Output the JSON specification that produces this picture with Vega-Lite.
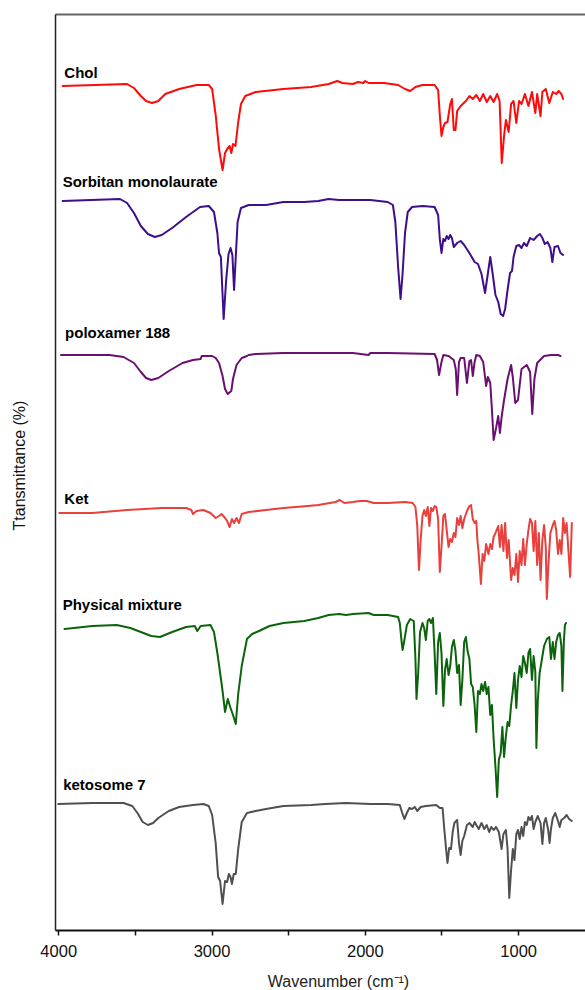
{
  "$schema": "https://vega.github.io/schema/vega-lite/v6.json",
  "width": 530,
  "height": 916,
  "autosize": {"type": "none"},
  "padding": {"left": 55, "top": 14, "right": 0, "bottom": 60},
  "background": "white",
  "config": {"view": {"stroke": null}, "font": "Liberation Sans"},
  "datasets": {
    "labels": [
      {"label": "Chol", "w": 3960, "t": 852},
      {"label": "Sorbitan monolaurate", "w": 3971, "t": 743},
      {"label": "poloxamer 188", "w": 3955, "t": 592},
      {"label": "Ket", "w": 3960, "t": 426},
      {"label": "Physical mixture", "w": 3971, "t": 320},
      {"label": "ketosome 7", "w": 3968, "t": 140}
    ],
    "spectra": [
      {"s":"Chol","w":3971,"t":844},{"s":"Chol","w":3551,"t":846},{"s":"Chol","w":3506,"t":842},{"s":"Chol","w":3461,"t":834},{"s":"Chol","w":3427,"t":829},{"s":"Chol","w":3388,"t":827},{"s":"Chol","w":3347,"t":829},{"s":"Chol","w":3302,"t":836},{"s":"Chol","w":3211,"t":841},{"s":"Chol","w":3098,"t":845},{"s":"Chol","w":3018,"t":845},{"s":"Chol","w":2996,"t":841},{"s":"Chol","w":2973,"t":815},{"s":"Chol","w":2951,"t":781},{"s":"Chol","w":2928,"t":760},{"s":"Chol","w":2912,"t":777},{"s":"Chol","w":2898,"t":781},{"s":"Chol","w":2882,"t":784},{"s":"Chol","w":2871,"t":777},{"s":"Chol","w":2860,"t":786},{"s":"Chol","w":2844,"t":784},{"s":"Chol","w":2826,"t":808},{"s":"Chol","w":2808,"t":826},{"s":"Chol","w":2780,"t":834},{"s":"Chol","w":2712,"t":838},{"s":"Chol","w":2531,"t":841},{"s":"Chol","w":2350,"t":843},{"s":"Chol","w":2236,"t":846},{"s":"Chol","w":2180,"t":849},{"s":"Chol","w":2146,"t":847},{"s":"Chol","w":2078,"t":846},{"s":"Chol","w":2044,"t":848},{"s":"Chol","w":2010,"t":847},{"s":"Chol","w":1998,"t":849},{"s":"Chol","w":1976,"t":847},{"s":"Chol","w":1874,"t":847},{"s":"Chol","w":1783,"t":845},{"s":"Chol","w":1738,"t":841},{"s":"Chol","w":1704,"t":839},{"s":"Chol","w":1670,"t":843},{"s":"Chol","w":1624,"t":845},{"s":"Chol","w":1545,"t":845},{"s":"Chol","w":1522,"t":840},{"s":"Chol","w":1511,"t":815},{"s":"Chol","w":1500,"t":794},{"s":"Chol","w":1488,"t":803},{"s":"Chol","w":1477,"t":807},{"s":"Chol","w":1461,"t":808},{"s":"Chol","w":1443,"t":826},{"s":"Chol","w":1432,"t":831},{"s":"Chol","w":1420,"t":800},{"s":"Chol","w":1409,"t":800},{"s":"Chol","w":1398,"t":819},{"s":"Chol","w":1375,"t":824},{"s":"Chol","w":1341,"t":829},{"s":"Chol","w":1318,"t":834},{"s":"Chol","w":1296,"t":831},{"s":"Chol","w":1273,"t":835},{"s":"Chol","w":1250,"t":829},{"s":"Chol","w":1228,"t":836},{"s":"Chol","w":1205,"t":828},{"s":"Chol","w":1182,"t":834},{"s":"Chol","w":1160,"t":828},{"s":"Chol","w":1137,"t":836},{"s":"Chol","w":1121,"t":829},{"s":"Chol","w":1107,"t":767},{"s":"Chol","w":1092,"t":794},{"s":"Chol","w":1080,"t":810},{"s":"Chol","w":1062,"t":798},{"s":"Chol","w":1046,"t":826},{"s":"Chol","w":1030,"t":829},{"s":"Chol","w":1012,"t":807},{"s":"Chol","w":994,"t":829},{"s":"Chol","w":978,"t":826},{"s":"Chol","w":956,"t":836},{"s":"Chol","w":933,"t":824},{"s":"Chol","w":910,"t":838},{"s":"Chol","w":888,"t":817},{"s":"Chol","w":876,"t":836},{"s":"Chol","w":854,"t":814},{"s":"Chol","w":842,"t":838},{"s":"Chol","w":820,"t":841},{"s":"Chol","w":797,"t":827},{"s":"Chol","w":774,"t":838},{"s":"Chol","w":752,"t":836},{"s":"Chol","w":736,"t":839},{"s":"Chol","w":718,"t":836},{"s":"Chol","w":707,"t":831},
      {"s":"Sorbitan","w":3971,"t":729},{"s":"Sorbitan","w":3597,"t":731},{"s":"Sorbitan","w":3551,"t":727},{"s":"Sorbitan","w":3506,"t":717},{"s":"Sorbitan","w":3461,"t":704},{"s":"Sorbitan","w":3415,"t":696},{"s":"Sorbitan","w":3370,"t":693},{"s":"Sorbitan","w":3325,"t":695},{"s":"Sorbitan","w":3257,"t":702},{"s":"Sorbitan","w":3166,"t":713},{"s":"Sorbitan","w":3075,"t":723},{"s":"Sorbitan","w":3018,"t":724},{"s":"Sorbitan","w":2984,"t":718},{"s":"Sorbitan","w":2962,"t":697},{"s":"Sorbitan","w":2951,"t":677},{"s":"Sorbitan","w":2939,"t":673},{"s":"Sorbitan","w":2921,"t":611},{"s":"Sorbitan","w":2905,"t":649},{"s":"Sorbitan","w":2889,"t":676},{"s":"Sorbitan","w":2876,"t":682},{"s":"Sorbitan","w":2864,"t":675},{"s":"Sorbitan","w":2853,"t":640},{"s":"Sorbitan","w":2842,"t":673},{"s":"Sorbitan","w":2830,"t":708},{"s":"Sorbitan","w":2808,"t":722},{"s":"Sorbitan","w":2758,"t":725},{"s":"Sorbitan","w":2645,"t":725},{"s":"Sorbitan","w":2531,"t":728},{"s":"Sorbitan","w":2395,"t":728},{"s":"Sorbitan","w":2304,"t":729},{"s":"Sorbitan","w":2236,"t":731},{"s":"Sorbitan","w":2168,"t":730},{"s":"Sorbitan","w":2078,"t":730},{"s":"Sorbitan","w":1964,"t":730},{"s":"Sorbitan","w":1851,"t":728},{"s":"Sorbitan","w":1817,"t":725},{"s":"Sorbitan","w":1801,"t":708},{"s":"Sorbitan","w":1783,"t":663},{"s":"Sorbitan","w":1767,"t":631},{"s":"Sorbitan","w":1754,"t":656},{"s":"Sorbitan","w":1738,"t":697},{"s":"Sorbitan","w":1720,"t":718},{"s":"Sorbitan","w":1692,"t":723},{"s":"Sorbitan","w":1624,"t":724},{"s":"Sorbitan","w":1545,"t":723},{"s":"Sorbitan","w":1522,"t":715},{"s":"Sorbitan","w":1511,"t":691},{"s":"Sorbitan","w":1500,"t":677},{"s":"Sorbitan","w":1488,"t":691},{"s":"Sorbitan","w":1477,"t":689},{"s":"Sorbitan","w":1466,"t":694},{"s":"Sorbitan","w":1454,"t":691},{"s":"Sorbitan","w":1443,"t":695},{"s":"Sorbitan","w":1432,"t":692},{"s":"Sorbitan","w":1420,"t":683},{"s":"Sorbitan","w":1409,"t":685},{"s":"Sorbitan","w":1398,"t":687},{"s":"Sorbitan","w":1375,"t":689},{"s":"Sorbitan","w":1352,"t":685},{"s":"Sorbitan","w":1318,"t":677},{"s":"Sorbitan","w":1284,"t":668},{"s":"Sorbitan","w":1262,"t":666},{"s":"Sorbitan","w":1239,"t":656},{"s":"Sorbitan","w":1216,"t":637},{"s":"Sorbitan","w":1198,"t":656},{"s":"Sorbitan","w":1182,"t":673},{"s":"Sorbitan","w":1166,"t":656},{"s":"Sorbitan","w":1148,"t":635},{"s":"Sorbitan","w":1130,"t":628},{"s":"Sorbitan","w":1114,"t":616},{"s":"Sorbitan","w":1098,"t":614},{"s":"Sorbitan","w":1085,"t":621},{"s":"Sorbitan","w":1069,"t":640},{"s":"Sorbitan","w":1053,"t":657},{"s":"Sorbitan","w":1040,"t":659},{"s":"Sorbitan","w":1030,"t":673},{"s":"Sorbitan","w":1012,"t":684},{"s":"Sorbitan","w":994,"t":685},{"s":"Sorbitan","w":978,"t":682},{"s":"Sorbitan","w":962,"t":687},{"s":"Sorbitan","w":944,"t":684},{"s":"Sorbitan","w":922,"t":692},{"s":"Sorbitan","w":899,"t":690},{"s":"Sorbitan","w":876,"t":694},{"s":"Sorbitan","w":858,"t":696},{"s":"Sorbitan","w":842,"t":692},{"s":"Sorbitan","w":826,"t":686},{"s":"Sorbitan","w":808,"t":688},{"s":"Sorbitan","w":790,"t":682},{"s":"Sorbitan","w":777,"t":668},{"s":"Sorbitan","w":763,"t":683},{"s":"Sorbitan","w":740,"t":684},{"s":"Sorbitan","w":724,"t":677},{"s":"Sorbitan","w":707,"t":675},
      {"s":"Poloxamer","w":3982,"t":575},{"s":"Poloxamer","w":3665,"t":575},{"s":"Poloxamer","w":3574,"t":573},{"s":"Poloxamer","w":3506,"t":567},{"s":"Poloxamer","w":3461,"t":558},{"s":"Poloxamer","w":3427,"t":552},{"s":"Poloxamer","w":3393,"t":550},{"s":"Poloxamer","w":3347,"t":552},{"s":"Poloxamer","w":3279,"t":559},{"s":"Poloxamer","w":3189,"t":567},{"s":"Poloxamer","w":3121,"t":570},{"s":"Poloxamer","w":3071,"t":571},{"s":"Poloxamer","w":3064,"t":574},{"s":"Poloxamer","w":2996,"t":574},{"s":"Poloxamer","w":2973,"t":572},{"s":"Poloxamer","w":2951,"t":567},{"s":"Poloxamer","w":2928,"t":554},{"s":"Poloxamer","w":2912,"t":541},{"s":"Poloxamer","w":2894,"t":536},{"s":"Poloxamer","w":2871,"t":539},{"s":"Poloxamer","w":2860,"t":551},{"s":"Poloxamer","w":2837,"t":565},{"s":"Poloxamer","w":2803,"t":572},{"s":"Poloxamer","w":2769,"t":574},{"s":"Poloxamer","w":2758,"t":575},{"s":"Poloxamer","w":2712,"t":576},{"s":"Poloxamer","w":2531,"t":577},{"s":"Poloxamer","w":2304,"t":577},{"s":"Poloxamer","w":2078,"t":577},{"s":"Poloxamer","w":1976,"t":575},{"s":"Poloxamer","w":1964,"t":577},{"s":"Poloxamer","w":1851,"t":577},{"s":"Poloxamer","w":1545,"t":576},{"s":"Poloxamer","w":1529,"t":570},{"s":"Poloxamer","w":1516,"t":555},{"s":"Poloxamer","w":1500,"t":568},{"s":"Poloxamer","w":1488,"t":575},{"s":"Poloxamer","w":1454,"t":574},{"s":"Poloxamer","w":1420,"t":570},{"s":"Poloxamer","w":1407,"t":561},{"s":"Poloxamer","w":1398,"t":535},{"s":"Poloxamer","w":1386,"t":568},{"s":"Poloxamer","w":1375,"t":572},{"s":"Poloxamer","w":1352,"t":572},{"s":"Poloxamer","w":1334,"t":547},{"s":"Poloxamer","w":1318,"t":569},{"s":"Poloxamer","w":1307,"t":570},{"s":"Poloxamer","w":1296,"t":554},{"s":"Poloxamer","w":1284,"t":568},{"s":"Poloxamer","w":1273,"t":575},{"s":"Poloxamer","w":1250,"t":574},{"s":"Poloxamer","w":1228,"t":568},{"s":"Poloxamer","w":1209,"t":544},{"s":"Poloxamer","w":1198,"t":553},{"s":"Poloxamer","w":1182,"t":547},{"s":"Poloxamer","w":1171,"t":520},{"s":"Poloxamer","w":1160,"t":490},{"s":"Poloxamer","w":1144,"t":502},{"s":"Poloxamer","w":1130,"t":514},{"s":"Poloxamer","w":1119,"t":497},{"s":"Poloxamer","w":1108,"t":513},{"s":"Poloxamer","w":1092,"t":530},{"s":"Poloxamer","w":1069,"t":551},{"s":"Poloxamer","w":1046,"t":565},{"s":"Poloxamer","w":1035,"t":553},{"s":"Poloxamer","w":1019,"t":527},{"s":"Poloxamer","w":1001,"t":530},{"s":"Poloxamer","w":978,"t":561},{"s":"Poloxamer","w":944,"t":565},{"s":"Poloxamer","w":922,"t":558},{"s":"Poloxamer","w":908,"t":516},{"s":"Poloxamer","w":894,"t":551},{"s":"Poloxamer","w":876,"t":567},{"s":"Poloxamer","w":831,"t":574},{"s":"Poloxamer","w":786,"t":575},{"s":"Poloxamer","w":740,"t":575},{"s":"Poloxamer","w":724,"t":574},
      {"s":"Ket","w":3993,"t":417},{"s":"Ket","w":3778,"t":417},{"s":"Ket","w":3551,"t":420},{"s":"Ket","w":3325,"t":422},{"s":"Ket","w":3166,"t":422},{"s":"Ket","w":3132,"t":420},{"s":"Ket","w":3121,"t":416},{"s":"Ket","w":3098,"t":419},{"s":"Ket","w":3053,"t":420},{"s":"Ket","w":3007,"t":417},{"s":"Ket","w":2973,"t":412},{"s":"Ket","w":2951,"t":414},{"s":"Ket","w":2935,"t":416},{"s":"Ket","w":2917,"t":413},{"s":"Ket","w":2898,"t":409},{"s":"Ket","w":2882,"t":403},{"s":"Ket","w":2867,"t":411},{"s":"Ket","w":2853,"t":407},{"s":"Ket","w":2837,"t":412},{"s":"Ket","w":2821,"t":407},{"s":"Ket","w":2803,"t":416},{"s":"Ket","w":2758,"t":418},{"s":"Ket","w":2645,"t":420},{"s":"Ket","w":2531,"t":422},{"s":"Ket","w":2372,"t":424},{"s":"Ket","w":2304,"t":425},{"s":"Ket","w":2191,"t":428},{"s":"Ket","w":2164,"t":430},{"s":"Ket","w":2134,"t":427},{"s":"Ket","w":2078,"t":428},{"s":"Ket","w":2032,"t":429},{"s":"Ket","w":1987,"t":429},{"s":"Ket","w":1942,"t":427},{"s":"Ket","w":1851,"t":427},{"s":"Ket","w":1738,"t":428},{"s":"Ket","w":1688,"t":427},{"s":"Ket","w":1670,"t":423},{"s":"Ket","w":1658,"t":404},{"s":"Ket","w":1647,"t":360},{"s":"Ket","w":1636,"t":390},{"s":"Ket","w":1624,"t":414},{"s":"Ket","w":1613,"t":420},{"s":"Ket","w":1602,"t":414},{"s":"Ket","w":1590,"t":423},{"s":"Ket","w":1579,"t":404},{"s":"Ket","w":1568,"t":422},{"s":"Ket","w":1556,"t":419},{"s":"Ket","w":1545,"t":424},{"s":"Ket","w":1534,"t":423},{"s":"Ket","w":1522,"t":411},{"s":"Ket","w":1511,"t":358},{"s":"Ket","w":1500,"t":383},{"s":"Ket","w":1488,"t":414},{"s":"Ket","w":1477,"t":416},{"s":"Ket","w":1466,"t":400},{"s":"Ket","w":1454,"t":383},{"s":"Ket","w":1443,"t":391},{"s":"Ket","w":1432,"t":388},{"s":"Ket","w":1420,"t":397},{"s":"Ket","w":1409,"t":393},{"s":"Ket","w":1398,"t":412},{"s":"Ket","w":1386,"t":405},{"s":"Ket","w":1375,"t":414},{"s":"Ket","w":1364,"t":402},{"s":"Ket","w":1352,"t":411},{"s":"Ket","w":1334,"t":419},{"s":"Ket","w":1318,"t":424},{"s":"Ket","w":1307,"t":425},{"s":"Ket","w":1296,"t":411},{"s":"Ket","w":1284,"t":407},{"s":"Ket","w":1273,"t":409},{"s":"Ket","w":1266,"t":390},{"s":"Ket","w":1257,"t":376},{"s":"Ket","w":1243,"t":346},{"s":"Ket","w":1232,"t":376},{"s":"Ket","w":1221,"t":369},{"s":"Ket","w":1209,"t":386},{"s":"Ket","w":1194,"t":376},{"s":"Ket","w":1182,"t":386},{"s":"Ket","w":1171,"t":381},{"s":"Ket","w":1160,"t":393},{"s":"Ket","w":1148,"t":397},{"s":"Ket","w":1130,"t":404},{"s":"Ket","w":1119,"t":383},{"s":"Ket","w":1108,"t":405},{"s":"Ket","w":1096,"t":379},{"s":"Ket","w":1085,"t":407},{"s":"Ket","w":1073,"t":372},{"s":"Ket","w":1062,"t":390},{"s":"Ket","w":1046,"t":350},{"s":"Ket","w":1035,"t":362},{"s":"Ket","w":1024,"t":355},{"s":"Ket","w":1012,"t":376},{"s":"Ket","w":1001,"t":348},{"s":"Ket","w":990,"t":379},{"s":"Ket","w":978,"t":365},{"s":"Ket","w":967,"t":391},{"s":"Ket","w":956,"t":365},{"s":"Ket","w":944,"t":386},{"s":"Ket","w":933,"t":400},{"s":"Ket","w":922,"t":411},{"s":"Ket","w":910,"t":407},{"s":"Ket","w":899,"t":379},{"s":"Ket","w":888,"t":409},{"s":"Ket","w":876,"t":365},{"s":"Ket","w":865,"t":397},{"s":"Ket","w":854,"t":350},{"s":"Ket","w":842,"t":390},{"s":"Ket","w":831,"t":405},{"s":"Ket","w":820,"t":383},{"s":"Ket","w":813,"t":331},{"s":"Ket","w":804,"t":362},{"s":"Ket","w":790,"t":397},{"s":"Ket","w":774,"t":405},{"s":"Ket","w":763,"t":409},{"s":"Ket","w":752,"t":400},{"s":"Ket","w":740,"t":376},{"s":"Ket","w":729,"t":390},{"s":"Ket","w":718,"t":376},{"s":"Ket","w":706,"t":412},{"s":"Ket","w":695,"t":397},{"s":"Ket","w":684,"t":407},{"s":"Ket","w":672,"t":379},{"s":"Ket","w":661,"t":353},{"s":"Ket","w":650,"t":407},
      {"s":"Physical","w":3959,"t":301},{"s":"Physical","w":3778,"t":304},{"s":"Physical","w":3619,"t":305},{"s":"Physical","w":3529,"t":302},{"s":"Physical","w":3461,"t":298},{"s":"Physical","w":3393,"t":294},{"s":"Physical","w":3336,"t":293},{"s":"Physical","w":3257,"t":298},{"s":"Physical","w":3166,"t":303},{"s":"Physical","w":3109,"t":304},{"s":"Physical","w":3093,"t":299},{"s":"Physical","w":3071,"t":304},{"s":"Physical","w":3007,"t":305},{"s":"Physical","w":2984,"t":298},{"s":"Physical","w":2962,"t":277},{"s":"Physical","w":2944,"t":257},{"s":"Physical","w":2928,"t":239},{"s":"Physical","w":2912,"t":218},{"s":"Physical","w":2894,"t":231},{"s":"Physical","w":2876,"t":222},{"s":"Physical","w":2860,"t":215},{"s":"Physical","w":2842,"t":206},{"s":"Physical","w":2826,"t":236},{"s":"Physical","w":2803,"t":264},{"s":"Physical","w":2769,"t":291},{"s":"Physical","w":2735,"t":296},{"s":"Physical","w":2690,"t":299},{"s":"Physical","w":2622,"t":304},{"s":"Physical","w":2531,"t":307},{"s":"Physical","w":2395,"t":309},{"s":"Physical","w":2304,"t":312},{"s":"Physical","w":2236,"t":315},{"s":"Physical","w":2168,"t":316},{"s":"Physical","w":2123,"t":315},{"s":"Physical","w":2078,"t":316},{"s":"Physical","w":1976,"t":317},{"s":"Physical","w":1942,"t":315},{"s":"Physical","w":1851,"t":315},{"s":"Physical","w":1783,"t":313},{"s":"Physical","w":1772,"t":307},{"s":"Physical","w":1760,"t":288},{"s":"Physical","w":1754,"t":280},{"s":"Physical","w":1742,"t":290},{"s":"Physical","w":1726,"t":305},{"s":"Physical","w":1704,"t":311},{"s":"Physical","w":1681,"t":309},{"s":"Physical","w":1670,"t":271},{"s":"Physical","w":1663,"t":231},{"s":"Physical","w":1652,"t":257},{"s":"Physical","w":1640,"t":298},{"s":"Physical","w":1624,"t":307},{"s":"Physical","w":1613,"t":302},{"s":"Physical","w":1602,"t":290},{"s":"Physical","w":1590,"t":309},{"s":"Physical","w":1579,"t":311},{"s":"Physical","w":1568,"t":307},{"s":"Physical","w":1556,"t":312},{"s":"Physical","w":1545,"t":277},{"s":"Physical","w":1534,"t":236},{"s":"Physical","w":1522,"t":288},{"s":"Physical","w":1511,"t":297},{"s":"Physical","w":1500,"t":277},{"s":"Physical","w":1488,"t":224},{"s":"Physical","w":1477,"t":260},{"s":"Physical","w":1466,"t":271},{"s":"Physical","w":1454,"t":255},{"s":"Physical","w":1443,"t":264},{"s":"Physical","w":1432,"t":283},{"s":"Physical","w":1420,"t":290},{"s":"Physical","w":1409,"t":279},{"s":"Physical","w":1398,"t":257},{"s":"Physical","w":1386,"t":265},{"s":"Physical","w":1375,"t":225},{"s":"Physical","w":1364,"t":250},{"s":"Physical","w":1352,"t":288},{"s":"Physical","w":1341,"t":293},{"s":"Physical","w":1330,"t":279},{"s":"Physical","w":1318,"t":271},{"s":"Physical","w":1307,"t":246},{"s":"Physical","w":1296,"t":243},{"s":"Physical","w":1284,"t":225},{"s":"Physical","w":1273,"t":198},{"s":"Physical","w":1262,"t":239},{"s":"Physical","w":1250,"t":236},{"s":"Physical","w":1239,"t":246},{"s":"Physical","w":1228,"t":239},{"s":"Physical","w":1216,"t":248},{"s":"Physical","w":1205,"t":236},{"s":"Physical","w":1194,"t":243},{"s":"Physical","w":1182,"t":215},{"s":"Physical","w":1171,"t":225},{"s":"Physical","w":1160,"t":191},{"s":"Physical","w":1148,"t":163},{"s":"Physical","w":1137,"t":133},{"s":"Physical","w":1126,"t":170},{"s":"Physical","w":1114,"t":177},{"s":"Physical","w":1103,"t":203},{"s":"Physical","w":1092,"t":173},{"s":"Physical","w":1080,"t":194},{"s":"Physical","w":1069,"t":208},{"s":"Physical","w":1058,"t":204},{"s":"Physical","w":1046,"t":225},{"s":"Physical","w":1035,"t":239},{"s":"Physical","w":1024,"t":257},{"s":"Physical","w":1012,"t":222},{"s":"Physical","w":1001,"t":250},{"s":"Physical","w":990,"t":264},{"s":"Physical","w":978,"t":253},{"s":"Physical","w":967,"t":274},{"s":"Physical","w":956,"t":267},{"s":"Physical","w":944,"t":257},{"s":"Physical","w":933,"t":277},{"s":"Physical","w":922,"t":281},{"s":"Physical","w":910,"t":250},{"s":"Physical","w":899,"t":274},{"s":"Physical","w":888,"t":258},{"s":"Physical","w":881,"t":182},{"s":"Physical","w":872,"t":229},{"s":"Physical","w":860,"t":257},{"s":"Physical","w":849,"t":267},{"s":"Physical","w":831,"t":284},{"s":"Physical","w":813,"t":291},{"s":"Physical","w":797,"t":293},{"s":"Physical","w":786,"t":271},{"s":"Physical","w":774,"t":288},{"s":"Physical","w":763,"t":271},{"s":"Physical","w":752,"t":288},{"s":"Physical","w":740,"t":295},{"s":"Physical","w":729,"t":297},{"s":"Physical","w":718,"t":284},{"s":"Physical","w":711,"t":239},{"s":"Physical","w":702,"t":288},{"s":"Physical","w":695,"t":305},{"s":"Physical","w":688,"t":307},
      {"s":"Ketosome","w":4000,"t":126},{"s":"Ketosome","w":3778,"t":127},{"s":"Ketosome","w":3574,"t":127},{"s":"Ketosome","w":3517,"t":124},{"s":"Ketosome","w":3483,"t":117},{"s":"Ketosome","w":3449,"t":108},{"s":"Ketosome","w":3415,"t":105},{"s":"Ketosome","w":3381,"t":107},{"s":"Ketosome","w":3347,"t":112},{"s":"Ketosome","w":3279,"t":119},{"s":"Ketosome","w":3211,"t":123},{"s":"Ketosome","w":3121,"t":125},{"s":"Ketosome","w":3053,"t":126},{"s":"Ketosome","w":3018,"t":124},{"s":"Ketosome","w":2996,"t":115},{"s":"Ketosome","w":2973,"t":87},{"s":"Ketosome","w":2957,"t":53},{"s":"Ketosome","w":2944,"t":49},{"s":"Ketosome","w":2928,"t":26},{"s":"Ketosome","w":2912,"t":49},{"s":"Ketosome","w":2898,"t":48},{"s":"Ketosome","w":2887,"t":56},{"s":"Ketosome","w":2876,"t":53},{"s":"Ketosome","w":2867,"t":46},{"s":"Ketosome","w":2855,"t":56},{"s":"Ketosome","w":2842,"t":56},{"s":"Ketosome","w":2826,"t":81},{"s":"Ketosome","w":2803,"t":108},{"s":"Ketosome","w":2769,"t":117},{"s":"Ketosome","w":2712,"t":119},{"s":"Ketosome","w":2645,"t":121},{"s":"Ketosome","w":2531,"t":124},{"s":"Ketosome","w":2350,"t":125},{"s":"Ketosome","w":2259,"t":126},{"s":"Ketosome","w":2123,"t":127},{"s":"Ketosome","w":1964,"t":126},{"s":"Ketosome","w":1851,"t":126},{"s":"Ketosome","w":1772,"t":125},{"s":"Ketosome","w":1756,"t":117},{"s":"Ketosome","w":1742,"t":111},{"s":"Ketosome","w":1726,"t":117},{"s":"Ketosome","w":1710,"t":122},{"s":"Ketosome","w":1692,"t":121},{"s":"Ketosome","w":1674,"t":123},{"s":"Ketosome","w":1658,"t":119},{"s":"Ketosome","w":1636,"t":123},{"s":"Ketosome","w":1602,"t":124},{"s":"Ketosome","w":1534,"t":125},{"s":"Ketosome","w":1511,"t":122},{"s":"Ketosome","w":1493,"t":122},{"s":"Ketosome","w":1482,"t":101},{"s":"Ketosome","w":1470,"t":81},{"s":"Ketosome","w":1461,"t":67},{"s":"Ketosome","w":1450,"t":82},{"s":"Ketosome","w":1438,"t":81},{"s":"Ketosome","w":1427,"t":98},{"s":"Ketosome","w":1416,"t":107},{"s":"Ketosome","w":1398,"t":110},{"s":"Ketosome","w":1386,"t":87},{"s":"Ketosome","w":1375,"t":75},{"s":"Ketosome","w":1364,"t":89},{"s":"Ketosome","w":1352,"t":94},{"s":"Ketosome","w":1334,"t":105},{"s":"Ketosome","w":1318,"t":107},{"s":"Ketosome","w":1296,"t":103},{"s":"Ketosome","w":1284,"t":108},{"s":"Ketosome","w":1273,"t":105},{"s":"Ketosome","w":1257,"t":101},{"s":"Ketosome","w":1239,"t":107},{"s":"Ketosome","w":1221,"t":101},{"s":"Ketosome","w":1205,"t":105},{"s":"Ketosome","w":1189,"t":98},{"s":"Ketosome","w":1175,"t":103},{"s":"Ketosome","w":1160,"t":100},{"s":"Ketosome","w":1144,"t":103},{"s":"Ketosome","w":1126,"t":98},{"s":"Ketosome","w":1108,"t":81},{"s":"Ketosome","w":1096,"t":96},{"s":"Ketosome","w":1080,"t":100},{"s":"Ketosome","w":1069,"t":81},{"s":"Ketosome","w":1058,"t":32},{"s":"Ketosome","w":1046,"t":60},{"s":"Ketosome","w":1035,"t":81},{"s":"Ketosome","w":1024,"t":70},{"s":"Ketosome","w":1012,"t":96},{"s":"Ketosome","w":1001,"t":100},{"s":"Ketosome","w":990,"t":91},{"s":"Ketosome","w":978,"t":103},{"s":"Ketosome","w":967,"t":94},{"s":"Ketosome","w":956,"t":108},{"s":"Ketosome","w":944,"t":105},{"s":"Ketosome","w":933,"t":113},{"s":"Ketosome","w":922,"t":110},{"s":"Ketosome","w":910,"t":114},{"s":"Ketosome","w":899,"t":101},{"s":"Ketosome","w":888,"t":108},{"s":"Ketosome","w":872,"t":114},{"s":"Ketosome","w":854,"t":107},{"s":"Ketosome","w":842,"t":86},{"s":"Ketosome","w":831,"t":107},{"s":"Ketosome","w":820,"t":112},{"s":"Ketosome","w":804,"t":100},{"s":"Ketosome","w":795,"t":87},{"s":"Ketosome","w":786,"t":101},{"s":"Ketosome","w":774,"t":112},{"s":"Ketosome","w":758,"t":117},{"s":"Ketosome","w":740,"t":109},{"s":"Ketosome","w":729,"t":103},{"s":"Ketosome","w":718,"t":110},{"s":"Ketosome","w":700,"t":112},{"s":"Ketosome","w":684,"t":115},{"s":"Ketosome","w":668,"t":111},{"s":"Ketosome","w":650,"t":109}
    ]
  },
  "resolve": {"axis": {"x": "independent", "y": "independent"}},
  "layer": [
    {
      "data": {"name": "spectra"},
      "mark": {"type": "line", "strokeJoin": "round", "strokeCap": "round"},
      "encoding": {
        "x": {
          "field": "w", "type": "quantitative",
          "scale": {"domain": [564, 4021], "reverse": true, "nice": false, "zero": false},
          "axis": {
            "orient": "bottom",
            "values": [4000, 3500, 3000, 2500, 2000, 1500, 1000],
            "labelExpr": "datum.value % 1000 == 0 ? '' + datum.value : ''",
            "grid": false,
            "domainColor": "#111111", "domainWidth": 2,
            "tickColor": "#111111", "tickWidth": 1.5, "tickSize": 5,
            "labelFont": "Liberation Sans", "labelFontSize": 16.5, "labelColor": "#111111",
            "labelPadding": 8, "labelFlush": false, "labelOverlap": false,
            "title": "Wavenumber (cm⁻¹)",
            "titleFont": "Liberation Sans", "titleFontSize": 16, "titleFontWeight": "normal",
            "titleColor": "#222222",
            "titleX": 283, "titleY": 56, "titleAlign": "center", "titleBaseline": "alphabetic"
          }
        },
        "y": {
          "field": "t", "type": "quantitative",
          "scale": {"domain": [0, 916], "nice": false, "zero": false},
          "axis": {
            "orient": "left", "grid": false, "ticks": false, "labels": false,
            "domainColor": "#222222", "domainWidth": 1.5,
            "title": "Ttansmittance (%)",
            "titleFont": "Liberation Sans", "titleFontSize": 16, "titleFontWeight": "normal",
            "titleColor": "#111111",
            "titleX": -36, "titleY": 451, "titleAngle": -90,
            "titleAlign": "center", "titleBaseline": "middle"
          }
        },
        "color": {
          "field": "s", "type": "nominal", "legend": null,
          "scale": {
            "domain": ["Chol", "Sorbitan", "Poloxamer", "Ket", "Physical", "Ketosome"],
            "range": ["#ff0a0a", "#3d0f8a", "#6a1070", "#e8403c", "#0b640b", "#505050"]
          }
        },
        "strokeWidth": {
          "field": "s", "type": "nominal", "legend": null,
          "scale": {
            "domain": ["Chol", "Sorbitan", "Poloxamer", "Ket", "Physical", "Ketosome"],
            "range": [2, 2, 1.6, 1.5, 2, 1.5]
          }
        }
      }
    },
    {
      "data": {"name": "labels"},
      "mark": {"type": "text", "align": "left", "baseline": "alphabetic", "font": "Liberation Sans", "fontSize": 15, "fontWeight": "bold", "color": "#000000"},
      "encoding": {
        "x": {
          "field": "w", "type": "quantitative",
          "axis": {"orient": "top", "ticks": false, "labels": false, "grid": false, "title": null, "domainColor": "#666666", "domainWidth": 1.8}
        },
        "y": {"field": "t", "type": "quantitative", "axis": null},
        "text": {"field": "label"}
      }
    }
  ]
}
